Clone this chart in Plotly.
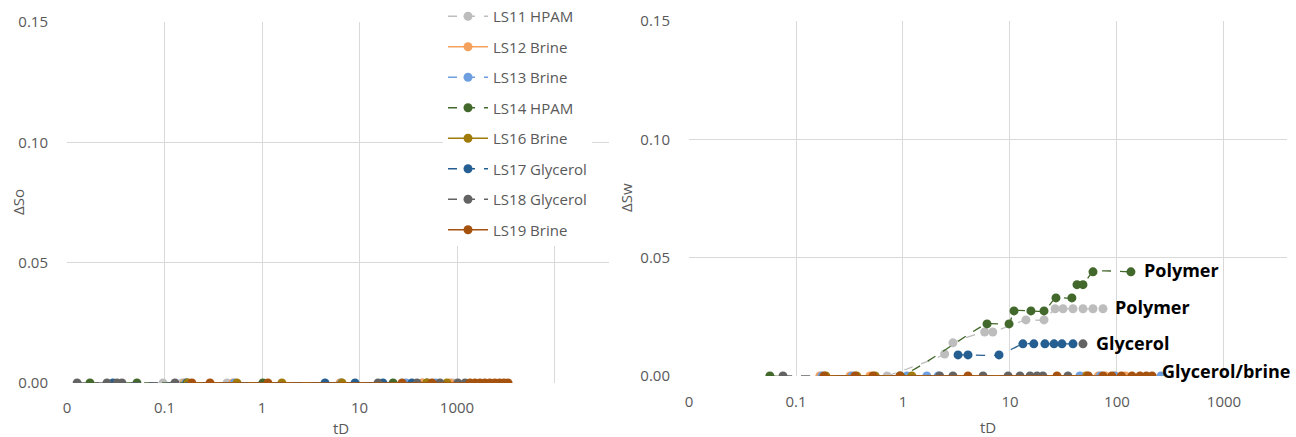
import math
import plotly.graph_objects as go

W, H = 1296, 437

# ---- series names, colours and dash styles ----
names = ["LS11 HPAM", "LS12 Brine", "LS13 Brine", "LS14 HPAM",
         "LS16 Brine", "LS17 Glycerol", "LS18 Glycerol", "LS19 Brine"]
colors = ["#BDBDBD", "#F4A15D", "#6D9EE0", "#43682B",
          "#A07B0A", "#255E91", "#636363", "#A5520F"]
dashes = ["dash", "solid", "dash", "dash", "solid", "dash", "dash", "solid"]

# ---- left panel: tD and ΔSo ----
so_td = {
    "LS11 HPAM": [0.0966, 0.151, 0.438, 6.5, 44, 91],
    "LS12 Brine": [0.16, 0.505, 6.31, 44, 85],
    "LS13 Brine": [0.165, 0.52, 6.5, 30, 60],
    "LS14 HPAM": [0.0172, 0.0522, 0.170, 1.02, 22.1, 49.2],
    "LS16 Brine": [0.175, 0.554, 1.60, 6.62, 49.2, 78.9],
    "LS17 Glycerol": [0.0296, 4.43, 9.0, 17.4, 34.5],
    "LS18 Glycerol": [0.0127, 0.0257, 0.0326, 0.0366, 0.128, 15.5, 38.9, 66.9, 102, 121],
    "LS19 Brine": [0.191, 0.293, 1.15, 27.3, 55.4, 136, 153, 172, 193, 217, 244, 274, 303, 334],
}
so_val = {k: [0.0] * len(v) for k, v in so_td.items()}

# ---- right panel: tD and ΔSw ----
sw_td = {
    "LS11 HPAM": [0.71, 2.45, 2.93, 5.8, 6.9, 14.1, 20.8, 26.4, 31.3, 38.8, 48.1, 59.7, 74.0],
    "LS12 Brine": [0.167, 0.32, 0.49, 50.5, 67, 78, 96, 120],
    "LS13 Brine": [0.175, 0.335, 1.09, 1.67, 2.13, 45, 70, 95, 258],
    "LS14 HPAM": [0.057, 0.94, 6.1, 9.8, 10.9, 15.7, 20.8, 26.9, 37.9, 42.3, 48.1, 59.7, 135],
    "LS16 Brine": [0.19, 0.37, 0.55, 1.21, 52],
    "LS17 Glycerol": [3.27, 4.05, 7.9, 13.2, 16.7, 21.2, 25.8, 30.6, 38.8, 48.1],
    "LS18 Glycerol": [0.0756, 2.2, 2.93, 5.6, 9.6, 12.4, 15.4, 17.9, 20.3, 34.8],
    "LS19 Brine": [0.183, 0.356, 0.524, 0.937, 4.05, 27.5, 54, 74, 89.5, 110, 138, 164, 188, 213],
}
sw_val = {
    "LS11 HPAM": [0, 0.0093, 0.014, 0.0186, 0.0186, 0.0237, 0.0237,
                  0.0284, 0.0284, 0.0284, 0.0284, 0.0284, 0.0284],
    "LS12 Brine": [0] * 8,
    "LS13 Brine": [0] * 9,
    "LS14 HPAM": [0, 0, 0.022, 0.022, 0.0275, 0.0275, 0.0275,
                  0.033, 0.033, 0.0386, 0.0386, 0.044, 0.044],
    "LS16 Brine": [0] * 5,
    "LS17 Glycerol": [0.0089, 0.0089, 0.0089, 0.0136, 0.0136, 0.0136,
                      0.0136, 0.0136, 0.0136, 0.0136],
    "LS18 Glycerol": [0] * 10,
    "LS19 Brine": [0] * 14,
}

# ---- text labels on the right panel ----
label_text = ["Polymer", "Polymer", "Glycerol", "Glycerol/brine"]
label_td = [171, 92, 61, 252]
label_val = [0.0449, 0.0292, 0.014, 0.0021]

y_ticks = [0, 0.05, 0.10, 0.15]
x_ticks = [0.01, 0.1, 1, 10, 100, 1000]
left_x_text = ["0", "0.1", "1", "10", "1000", ""]
right_x_text = ["0", "0.1", "1", "10", "100", "1000"]

FONT = "Open Sans"
GREY_TXT = "#595959"
GRID = "#D9D9D9"

fig = go.Figure()

for i, name in enumerate(names):
    line = dict(color=colors[i], width=1.5 if dashes[i] == "solid" else 1.3, dash=dashes[i])
    fig.add_trace(go.Scatter(
        x=so_td[name], y=so_val[name], mode="lines+markers", name=name,
        legendgroup=name, line=line,
        marker=dict(size=9, color=colors[i]),
        xaxis="x", yaxis="y", showlegend=True,
    ))

for i, name in enumerate(names):
    line = dict(color=colors[i], width=1.5 if dashes[i] == "solid" else 1.3,
                dash=dashes[i], shape="spline", smoothing=0.5)
    mcol = [colors[i]] * len(sw_td[name])
    if name == "LS17 Glycerol":
        mcol[-1] = colors[names.index("LS18 Glycerol")]
    fig.add_trace(go.Scatter(
        x=sw_td[name], y=sw_val[name], mode="lines+markers", name=name,
        legendgroup=name, line=line,
        marker=dict(size=9, color=mcol),
        xaxis="x2", yaxis="y2", showlegend=False,
    ))

axis_common = dict(showgrid=True, gridcolor=GRID, gridwidth=1, zeroline=False,
                   showline=False, ticks="", automargin=False,
                   tickfont=dict(family=FONT, size=15, color=GREY_TXT))

fig.update_layout(
    width=W, height=H,
    margin=dict(l=0, r=0, t=0, b=0, autoexpand=False),
    paper_bgcolor="white", plot_bgcolor="white",
    font=dict(family=FONT, color=GREY_TXT),
    xaxis=dict(type="log", domain=[67 / W, 609 / W], range=[-2, 3.559],
               tickvals=x_ticks, ticktext=left_x_text, anchor="y",
               ticklabelstandoff=14, **axis_common),
    yaxis=dict(domain=[1 - 383 / H, 1 - 22 / H], range=[0, 0.15],
               tickvals=y_ticks, tickformat=".2f", anchor="x",
               ticklabelstandoff=18, **axis_common),
    xaxis2=dict(type="log", domain=[689 / W, 1287 / W], range=[-2, 3.589],
                tickvals=x_ticks, ticktext=right_x_text, anchor="y2",
                ticklabelstandoff=15, **axis_common),
    yaxis2=dict(domain=[1 - 376 / H, 1 - 21 / H], range=[0, 0.15],
                tickvals=y_ticks, tickformat=".2f", anchor="x2",
                ticklabelstandoff=18, **axis_common),
    legend=dict(x=443 / W, y=1.0, xanchor="left", yanchor="top",
                bgcolor="white", borderwidth=0,
                font=dict(family=FONT, size=15, color=GREY_TXT),
                itemwidth=40, tracegroupgap=8),
    showlegend=True,
)

title_font = dict(family=FONT, size=15, color=GREY_TXT)
annotations = [
    dict(text="ΔSo", x=18 / W, y=1 - 202 / H, xref="paper", yref="paper",
         xanchor="center", yanchor="middle", textangle=-90, showarrow=False, font=title_font),
    dict(text="ΔSw", x=626 / W, y=1 - 198 / H, xref="paper", yref="paper",
         xanchor="center", yanchor="middle", textangle=-90, showarrow=False, font=title_font),
    dict(text="tD", x=341 / W, y=1 - 428 / H, xref="paper", yref="paper",
         xanchor="center", yanchor="middle", showarrow=False, font=title_font),
    dict(text="tD", x=988 / W, y=1 - 427 / H, xref="paper", yref="paper",
         xanchor="center", yanchor="middle", showarrow=False, font=title_font),
]
for t, xv, yv in zip(label_text, label_td, label_val):
    annotations.append(dict(text=t, x=math.log10(xv), y=yv, xref="x2", yref="y2",
                            xanchor="left", yanchor="middle", showarrow=False,
                            font=dict(family=FONT, size=18, color="black", weight="bold")))
fig.update_layout(annotations=annotations)

fig.write_html("out.html")
